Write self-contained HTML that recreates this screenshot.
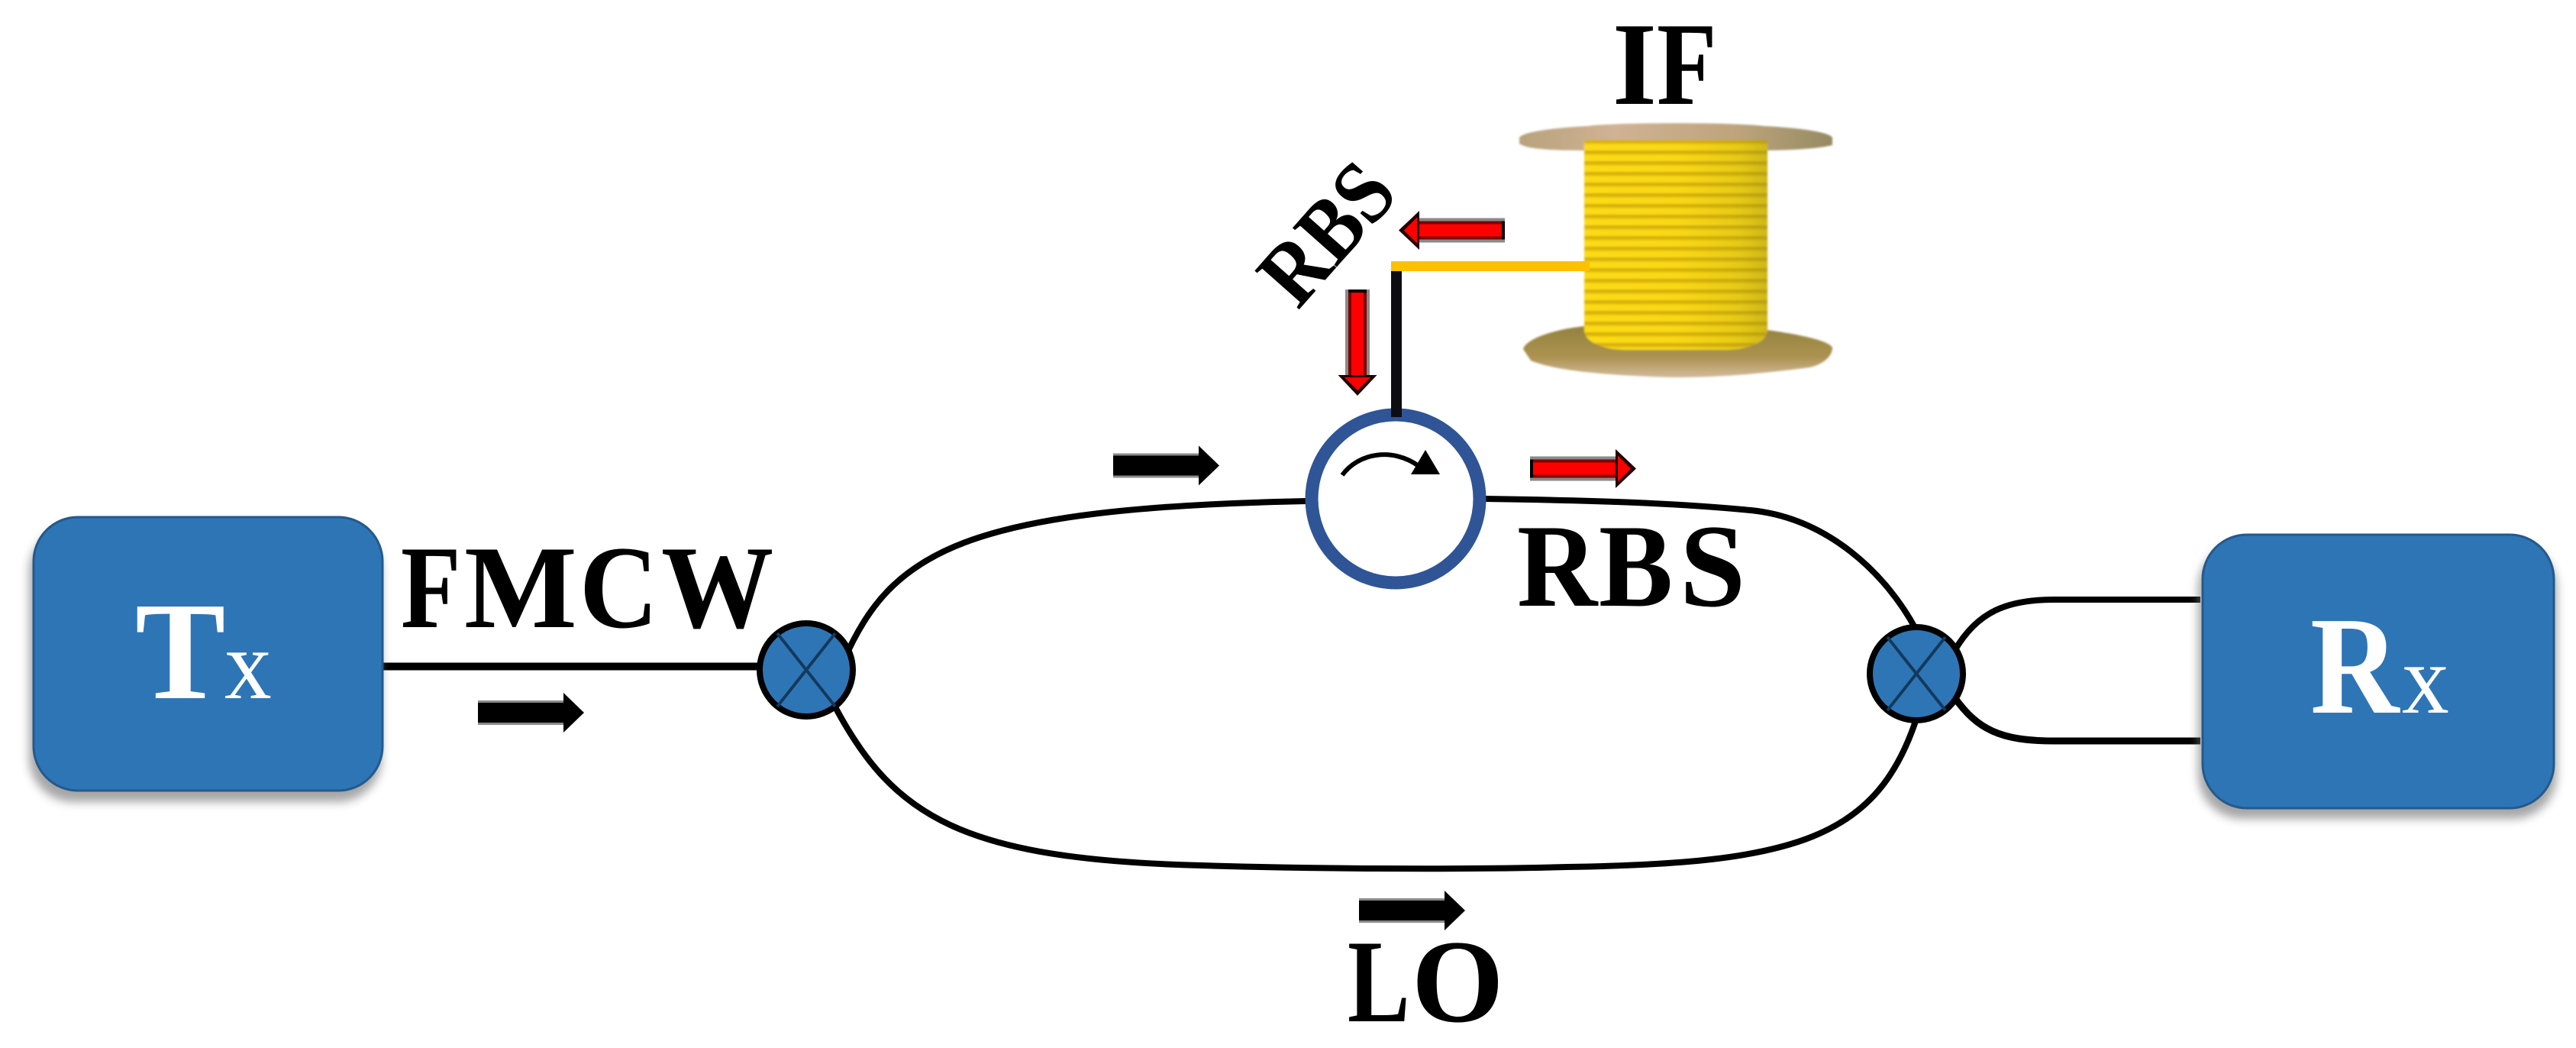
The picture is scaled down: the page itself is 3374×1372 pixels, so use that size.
<!DOCTYPE html>
<html>
<head>
<meta charset="utf-8">
<style>
html,body{margin:0;padding:0;background:#fff;width:3374px;height:1372px;overflow:hidden}
svg{display:block}
text{font-family:"Liberation Serif",serif}
</style>
</head>
<body>
<svg xmlns="http://www.w3.org/2000/svg" width="3374" height="1372" viewBox="0 0 3374 1372">
<defs>
<filter id="sh" x="-20%" y="-20%" width="140%" height="140%">
<feGaussianBlur stdDeviation="6"/>
</filter>
<filter id="soft" x="-5%" y="-5%" width="110%" height="110%">
<feGaussianBlur stdDeviation="1.2"/>
</filter>
<pattern id="coil" x="0" y="183" width="20" height="14" patternUnits="userSpaceOnUse">
<rect width="20" height="14" fill="#fbdb12"/>
<rect y="0" width="20" height="4" fill="#d8b00e"/>
<rect y="4" width="20" height="2" fill="#ecc610"/>
</pattern>
<linearGradient id="coilShade" x1="0" x2="1" y1="0" y2="0">
<stop offset="0" stop-color="#a08c10" stop-opacity="0"/>
<stop offset=".5" stop-color="#a08c10" stop-opacity=".03"/>
<stop offset=".85" stop-color="#8a8418" stop-opacity=".2"/>
<stop offset="1" stop-color="#8a8418" stop-opacity=".4"/>
</linearGradient>
<linearGradient id="wood1" x1="0" x2="1" y1="0" y2="0">
<stop offset="0" stop-color="#b8a27c"/>
<stop offset=".3" stop-color="#d0b294"/>
<stop offset=".7" stop-color="#bca47c"/>
<stop offset="1" stop-color="#968a62"/>
</linearGradient>
<linearGradient id="wood2" x1="0" x2="0" y1="0" y2="1">
<stop offset="0" stop-color="#94823f"/>
<stop offset=".6" stop-color="#ac9250"/>
<stop offset="1" stop-color="#d2ba9a"/>
</linearGradient>
<g id="ra">
<rect x="0" y="-16" width="116" height="32" fill="#8a8a8a"/>
<rect x="0" y="-12" width="116" height="24" fill="#7e0000"/>
<rect x="0" y="-12" width="4" height="24" fill="#000"/>
<rect x="4" y="-8" width="114" height="16" fill="#f00"/>
<polygon points="112,-25.5 139,0 112,25.5" fill="#200"/>
<polygon points="115,-17 132,0 115,17" fill="#f00"/>
</g>
<g id="ba">
<rect x="0" y="-16" width="116" height="32" fill="#8a8a8a"/>
<rect x="0" y="-13" width="116" height="26" fill="#000"/>
<polygon points="112,-26 139,0 112,26" fill="#000"/>
</g>
</defs>

<!-- fibre paths -->
<g fill="none" stroke="#000" stroke-linecap="butt">
<path d="M501 872.5H992" stroke-width="10"/>
<path d="M1105 865C1168 722,1262 665,1712 656" stroke-width="8"/>
<path d="M1944 653C2080 655,2190 658,2293 668C2393 678,2470 750,2510 825" stroke-width="8"/>
<path d="M1092 922C1170 1070,1260 1125,1574 1133C1700 1137,1900 1139,2053 1135C2350 1130,2460 1100,2512 935" stroke-width="8"/>
<path d="M2560 852C2590 800,2630 785,2690 785H2882" stroke-width="8"/>
<path d="M2560 913C2590 955,2620 970,2690 970H2882" stroke-width="9"/>
</g>

<!-- Tx box -->
<rect x="38" y="690" width="462" height="360" rx="58" ry="58" fill="#777" opacity=".65" filter="url(#sh)"/>
<rect x="44" y="677" width="457" height="358" rx="58" ry="58" fill="#2e75b6" stroke="#24598c" stroke-width="3"/>
<text transform="translate(177 914) scale(.97 1)" font-size="183" font-weight="bold" fill="#fff">T</text>
<text transform="translate(294 914) scale(.95 1)" font-size="130" fill="#fff">x</text>

<!-- Rx box -->
<rect x="2879" y="712" width="470" height="360" rx="58" ry="58" fill="#777" opacity=".65" filter="url(#sh)"/>
<rect x="2885" y="700" width="460" height="358" rx="58" ry="58" fill="#2e75b6" stroke="#24598c" stroke-width="3"/>
<text transform="translate(3026 933) scale(.88 1)" font-size="183" font-weight="bold" fill="#fff">R</text>
<text transform="translate(3146 933) scale(.95 1)" font-size="130" fill="#fff">x</text>

<!-- couplers -->
<g stroke="#000">
<circle cx="1056" cy="877" r="61" fill="#2e75b6" stroke-width="8"/>
<path d="M1018 829L1094 925M1094 829L1018 925" stroke="#123a5c" stroke-width="4" fill="none"/>
<circle cx="2510" cy="882" r="61" fill="#2e75b6" stroke-width="8"/>
<path d="M2472 834L2548 930M2548 834L2472 930" stroke="#123a5c" stroke-width="4" fill="none"/>
</g>

<!-- circulator -->
<circle cx="1828" cy="653" r="110" fill="#fff" stroke="#2f5597" stroke-width="17"/>
<path d="M1758 622C1780 592,1825 586,1858 610" fill="none" stroke="#000" stroke-width="6"/>
<polygon points="1848,621 1886,621 1867,589" fill="#000"/>

<!-- spool -->
<g filter="url(#soft)">
<path d="M1995 457C1998 445,2030 432,2075 427L2315 432C2350 437,2395 445,2400 455C2400 468,2385 478,2370 481C2300 490,2250 494,2190 494C2120 492,2040 487,2005 472Z" fill="url(#wood2)"/>
<path d="M1990 180C1995 172,2040 167,2080 165C2120 160,2270 160,2310 165C2350 167,2395 172,2400 180V190C2380 195,2340 197,2300 197H2080C2040 197,2000 196,1990 188Z" fill="url(#wood1)"/>
<path d="M2075 183H2315V432C2315 448,2290 458,2260 458H2130C2100 458,2075 448,2075 432Z" fill="url(#coil)"/>
<path d="M2075 183H2315V432C2315 448,2290 458,2260 458H2130C2100 458,2075 448,2075 432Z" fill="url(#coilShade)"/>
</g>

<!-- IF connector -->
<rect x="1822" y="342" width="260" height="13" fill="#ffc000"/>
<rect x="1822" y="355" width="14" height="191" fill="#0d0d12"/>

<!-- black arrows -->
<use href="#ba" transform="translate(626 933)"/>
<use href="#ba" transform="translate(1458 609.5)"/>
<use href="#ba" transform="translate(1780 1192)"/>

<!-- red arrows -->
<use href="#ra" transform="translate(1971 301.5) rotate(180)"/>
<use href="#ra" transform="translate(2004 613.5)"/>
<use href="#ra" transform="translate(1778 379) rotate(90)"/>

<!-- labels -->
<g font-size="155" font-weight="bold" fill="#000">
<text transform="translate(2112 136) scale(.96 1)">I</text>
<text transform="translate(2170 136) scale(.83 1)">F</text>
<text transform="translate(525 821) scale(.83 1)">F</text>
<text transform="translate(608 821) scale(1.01 1)">M</text>
<text transform="translate(759 821) scale(.92 1)">C</text>
<text transform="translate(866 821) scale(.95 1)">W</text>
<text transform="translate(1987 793) scale(.94 1)">R</text>
<text transform="translate(2094 793) scale(.94 1)">B</text>
<text transform="translate(2200 793)">S</text>
<text transform="translate(1765 1337) scale(.79 1)">L</text>
<text transform="translate(1849 1337)">O</text>
</g>
<text transform="translate(1700 407) rotate(-48.5) scale(.88 1)" font-size="118" font-weight="bold" fill="#000">RBS</text>
</svg>
</body>
</html>
